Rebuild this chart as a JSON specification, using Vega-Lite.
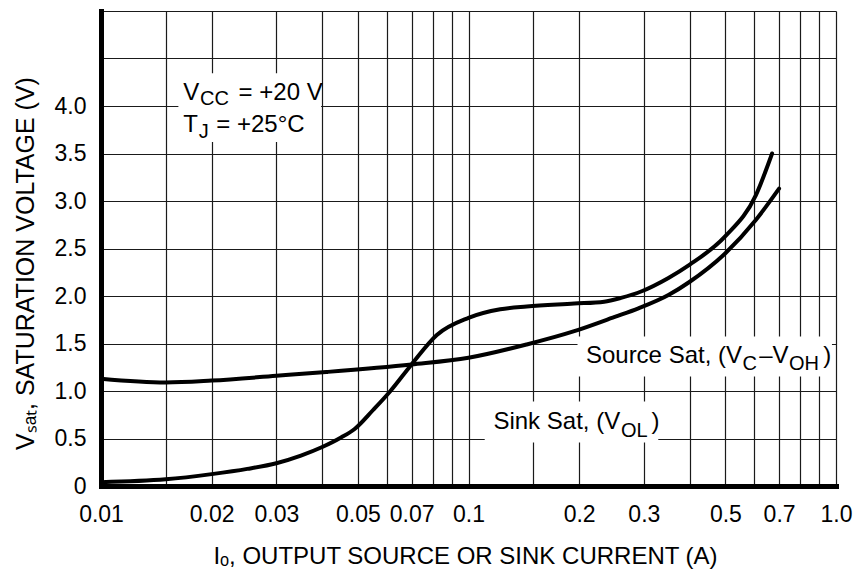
{
  "$schema": "https://vega.github.io/schema/vega-lite/v6.json",
  "width": 735,
  "height": 475,
  "autosize": {"type": "none"},
  "padding": {"left": 101, "top": 11, "right": 27, "bottom": 91},
  "background": "white",
  "config": {
    "font": "Liberation Sans",
    "view": {"stroke": null}
  },
  "datasets": {
    "curves": [
      {"series": "Sink", "x": 0.01, "y": 0.04},
      {"series": "Sink", "x": 0.015, "y": 0.07},
      {"series": "Sink", "x": 0.02, "y": 0.125},
      {"series": "Sink", "x": 0.025, "y": 0.18},
      {"series": "Sink", "x": 0.03, "y": 0.24},
      {"series": "Sink", "x": 0.035, "y": 0.32},
      {"series": "Sink", "x": 0.04, "y": 0.41},
      {"series": "Sink", "x": 0.045, "y": 0.51},
      {"series": "Sink", "x": 0.049, "y": 0.60},
      {"series": "Sink", "x": 0.055, "y": 0.80},
      {"series": "Sink", "x": 0.061, "y": 0.99},
      {"series": "Sink", "x": 0.07, "y": 1.28},
      {"series": "Sink", "x": 0.082, "y": 1.59},
      {"series": "Sink", "x": 0.1, "y": 1.77},
      {"series": "Sink", "x": 0.122, "y": 1.86},
      {"series": "Sink", "x": 0.144, "y": 1.89},
      {"series": "Sink", "x": 0.194, "y": 1.92},
      {"series": "Sink", "x": 0.234, "y": 1.94},
      {"series": "Sink", "x": 0.26, "y": 1.98},
      {"series": "Sink", "x": 0.296, "y": 2.05},
      {"series": "Sink", "x": 0.35, "y": 2.19},
      {"series": "Sink", "x": 0.4, "y": 2.33},
      {"series": "Sink", "x": 0.5, "y": 2.63},
      {"series": "Sink", "x": 0.605, "y": 3.06},
      {"series": "Sink", "x": 0.67, "y": 3.5},
      {"series": "Source", "x": 0.01, "y": 1.13},
      {"series": "Source", "x": 0.015, "y": 1.09},
      {"series": "Source", "x": 0.02, "y": 1.11},
      {"series": "Source", "x": 0.03, "y": 1.16},
      {"series": "Source", "x": 0.041, "y": 1.2},
      {"series": "Source", "x": 0.07, "y": 1.28},
      {"series": "Source", "x": 0.1, "y": 1.35},
      {"series": "Source", "x": 0.144, "y": 1.49},
      {"series": "Source", "x": 0.194, "y": 1.63},
      {"series": "Source", "x": 0.25, "y": 1.78},
      {"series": "Source", "x": 0.29, "y": 1.87},
      {"series": "Source", "x": 0.35, "y": 2.01},
      {"series": "Source", "x": 0.4, "y": 2.15},
      {"series": "Source", "x": 0.5, "y": 2.45},
      {"series": "Source", "x": 0.605, "y": 2.8},
      {"series": "Source", "x": 0.7, "y": 3.13}
    ],
    "boxes": [
      {"name": "conditions", "x": 0.01624, "x2": 0.0397, "y": 3.621, "y2": 4.346},
      {"name": "source", "x": 0.198, "x2": 0.975, "y": 1.152, "y2": 1.5725},
      {"name": "sink", "x": 0.1107, "x2": 0.3284, "y": 0.459, "y2": 0.8897}
    ],
    "labels": [
      {"text": "V", "kind": "main", "x": 0.01675, "y": 4.062},
      {"text": "CC", "kind": "sub", "x": 0.0186, "y": 4.007},
      {"text": "= +20 V", "kind": "main", "x": 0.02368, "y": 4.062},
      {"text": "T", "kind": "main", "x": 0.01675, "y": 3.729},
      {"text": "J", "kind": "sub", "x": 0.01845, "y": 3.663},
      {"text": "= +25°C", "kind": "main", "x": 0.02059, "y": 3.729},
      {"text": "Source Sat, (V", "kind": "main", "x": 0.2087, "y": 1.296},
      {"text": "C", "kind": "sub", "x": 0.5563, "y": 1.226},
      {"text": "–V", "kind": "main", "x": 0.6182, "y": 1.296},
      {"text": "OH", "kind": "sub", "x": 0.745, "y": 1.226},
      {"text": ")", "kind": "main", "x": 0.9228, "y": 1.296},
      {"text": "Sink Sat, (V", "kind": "main", "x": 0.1169, "y": 0.5956},
      {"text": "OL", "kind": "sub", "x": 0.26, "y": 0.519},
      {"text": ")", "kind": "main", "x": 0.3148, "y": 0.5956}
    ]
  },
  "encoding": {
    "x": {
      "field": "x",
      "type": "quantitative",
      "scale": {"type": "log", "domain": [0.01, 1], "nice": false},
      "axis": {
        "values": [0.01, 0.015, 0.02, 0.03, 0.04, 0.05, 0.06, 0.07, 0.08, 0.09, 0.1, 0.15, 0.2, 0.3, 0.4, 0.5, 0.6, 0.7, 0.8, 0.9, 1],
        "labelExpr": "datum.value == 1 ? '1.0' : (indexof([0.01, 0.02, 0.03, 0.05, 0.07, 0.1, 0.2, 0.3, 0.5, 0.7], datum.value) >= 0 ? format(datum.value, '~g') : '')",
        "grid": true,
        "gridColor": "#1a1a1a",
        "gridWidth": 1.2,
        "gridOpacity": 1,
        "ticks": false,
        "domain": true,
        "domainColor": "black",
        "domainWidth": 5,
        "domainCap": "square",
        "labelFontSize": 23,
        "labelColor": "black",
        "labelPadding": 17,
        "labelFlush": false,
        "labelOverlap": false,
        "title": "Iₒ, OUTPUT SOURCE OR SINK CURRENT (A)",
        "titleFontSize": 24,
        "titleFontWeight": "normal",
        "titleColor": "black",
        "titleX": 364,
        "titleY": 77,
        "titleAlign": "center",
        "titleBaseline": "alphabetic"
      }
    },
    "y": {
      "field": "y",
      "type": "quantitative",
      "scale": {"domain": [0, 5], "nice": false, "zero": false},
      "axis": {
        "values": [0, 0.5, 1, 1.5, 2, 2.5, 3, 3.5, 4, 4.5, 5],
        "labelExpr": "datum.value > 4.2 ? '' : (datum.value == 0 ? '0' : format(datum.value, '.1f'))",
        "grid": true,
        "gridColor": "#1a1a1a",
        "gridWidth": 1.2,
        "gridOpacity": 1,
        "ticks": false,
        "domain": true,
        "domainColor": "black",
        "domainWidth": 5,
        "domainCap": "square",
        "labelFontSize": 23,
        "labelColor": "black",
        "labelPadding": 15,
        "labelFlush": false,
        "labelOverlap": false,
        "title": "Vₛₐₜ, SATURATION VOLTAGE (V)",
        "titleFontSize": 25,
        "titleFontWeight": "normal",
        "titleColor": "black",
        "titleAngle": 270,
        "titleX": -68,
        "titleY": 252,
        "titleAlign": "center",
        "titleBaseline": "alphabetic"
      }
    }
  },
  "layer": [
    {
      "data": {"name": "boxes"},
      "mark": {"type": "rect", "color": "white", "opacity": 1},
      "encoding": {
        "x2": {"field": "x2"},
        "y2": {"field": "y2"}
      }
    },
    {
      "data": {"name": "curves"},
      "mark": {"type": "line", "color": "black", "strokeWidth": 4, "interpolate": "monotone", "strokeCap": "round"},
      "encoding": {
        "detail": {"field": "series"},
        "order": {"field": "x", "type": "quantitative"}
      }
    },
    {
      "data": {"name": "labels"},
      "transform": [{"filter": "datum.kind == 'main'"}],
      "mark": {"type": "text", "align": "left", "baseline": "alphabetic", "fontSize": 24, "color": "black"},
      "encoding": {"text": {"field": "text"}}
    },
    {
      "data": {"name": "labels"},
      "transform": [{"filter": "datum.kind == 'sub'"}],
      "mark": {"type": "text", "align": "left", "baseline": "alphabetic", "fontSize": 20, "color": "black"},
      "encoding": {"text": {"field": "text"}}
    }
  ]
}
